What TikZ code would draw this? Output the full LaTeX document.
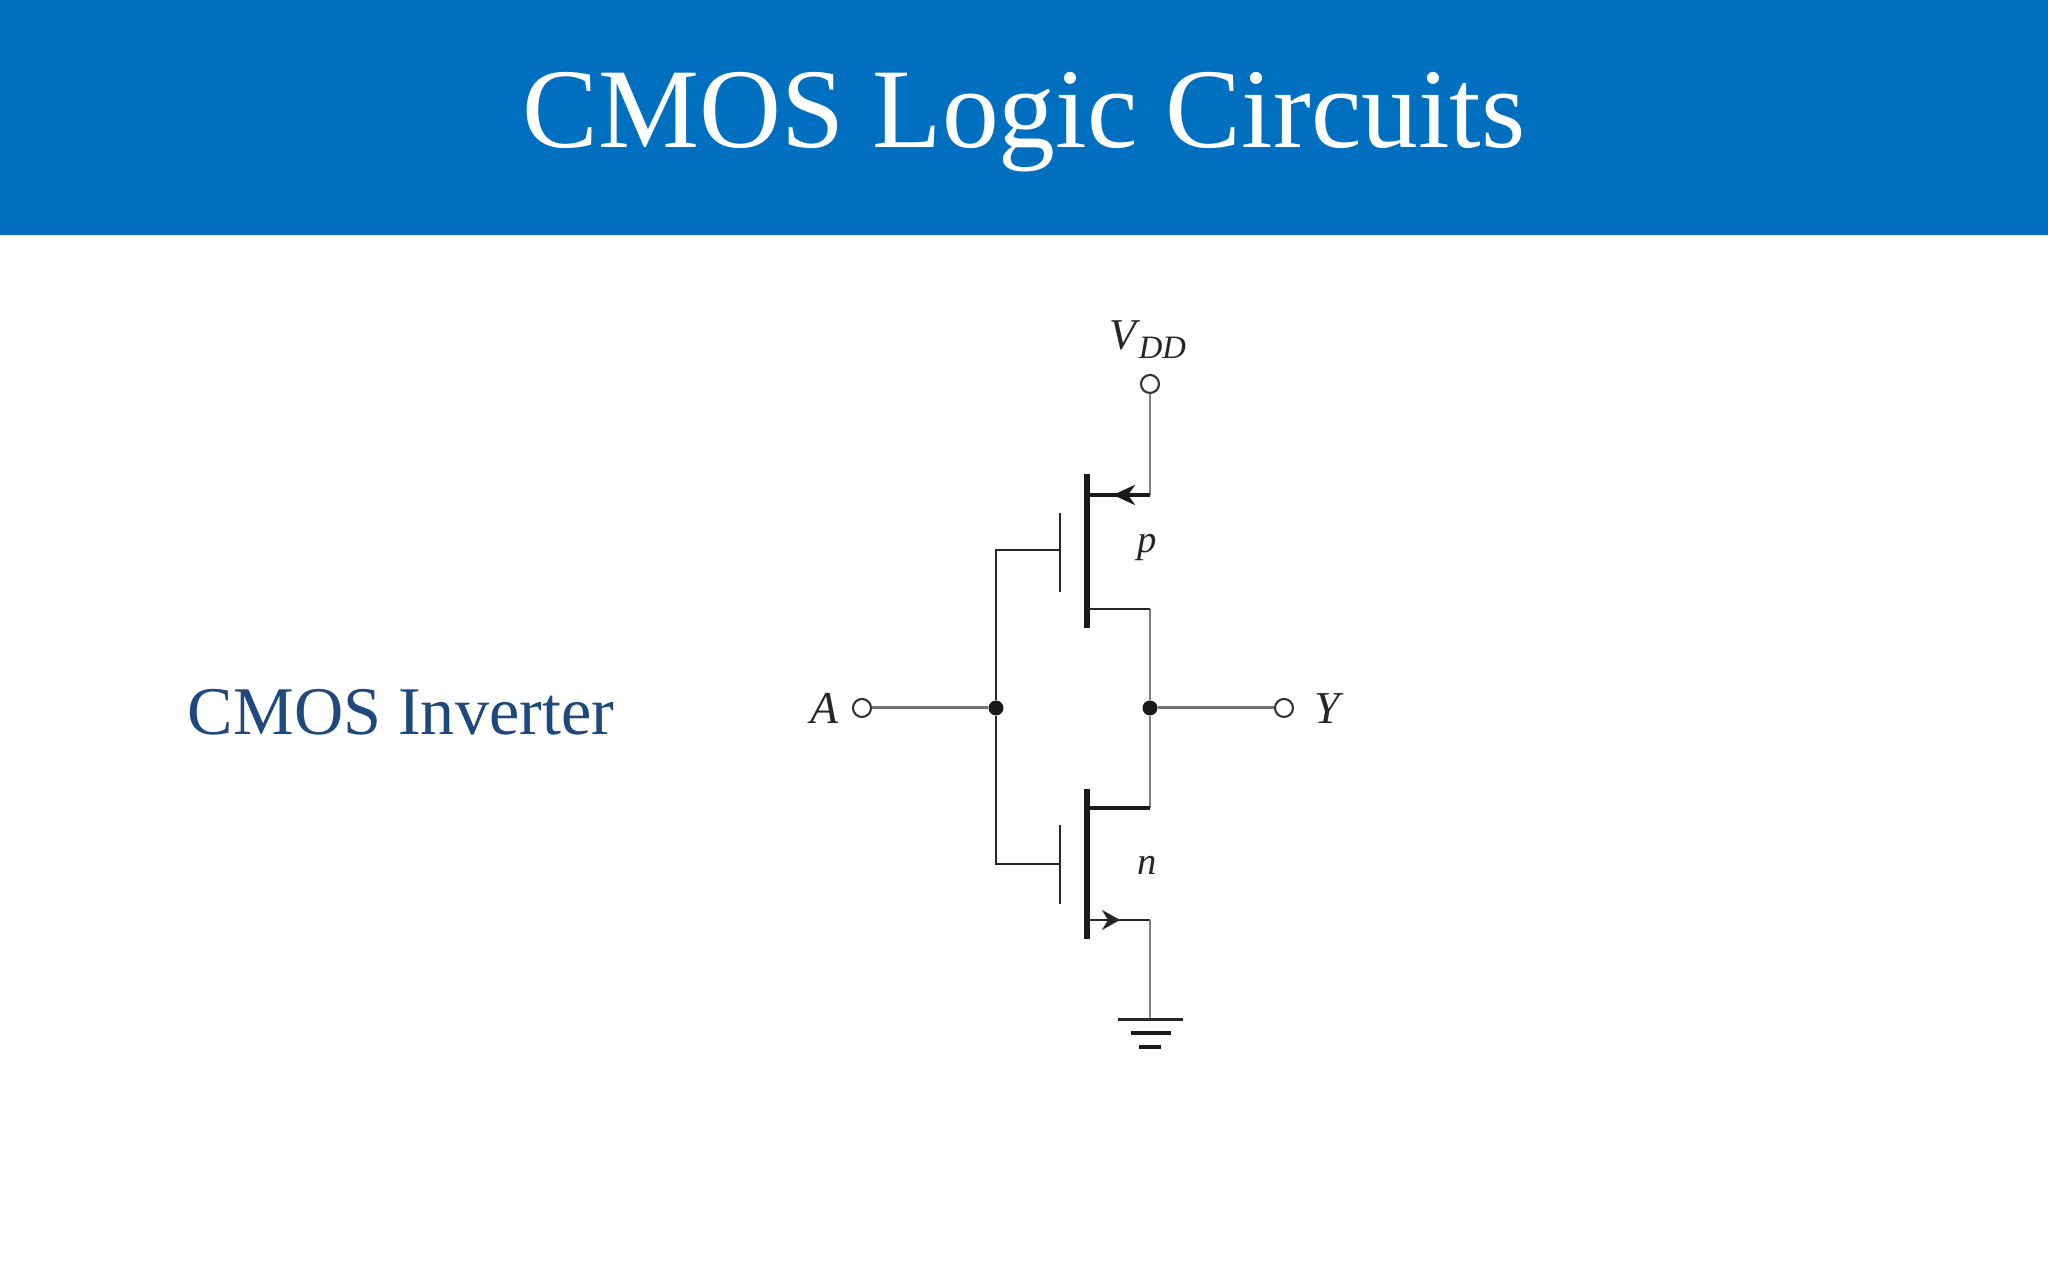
\documentclass[tikz,border=0pt]{standalone}
\usepackage{fontspec}
\setmainfont{Liberation Serif}
\usetikzlibrary{arrows.meta}
\definecolor{headblue}{HTML}{006FC0}
\definecolor{slateblue}{HTML}{1F497D}
\tikzset{
    wire/.style={line width=0.6pt, black!85},
    greywire/.style={line width=0.65pt, black!50},
    leadwire/.style={line width=0.85pt, black!55},
    thickwire/.style={line width=1.05pt, black!90},
    channel/.style={line width=1.45pt, black!90},
    terminal/.style={circle, draw=black!80, fill=white, line width=0.6pt, inner sep=0pt, minimum size=0.18cm},
    junction/.style={circle, fill=black!90, inner sep=0pt, minimum size=0.15cm},
    pinlabel/.style={text=black!85, font=\fontsize{13}{15}\selectfont\itshape},
    devlabel/.style={text=black!85, font=\fontsize{11}{13}\selectfont\itshape}
}
\begin{document}
\begin{tikzpicture}
    \useasboundingbox (0,0) rectangle (20.48,12.80);
    \fill[headblue] (0,10.45) rectangle (20.48,12.80);
    \node[white, font=\fontsize{32.3}{38}\selectfont] (title) at (10.24,11.58) {CMOS Logic Circuits};
    \node[slateblue, font=\fontsize{19.4}{22}\selectfont] (caption) at (4.01,5.68) {CMOS Inverter};

    % supply and outer terminals
    \node[terminal] (vdd) at (11.50,8.96) {};
    \node[terminal] (inA) at (8.62,5.72) {};
    \node[terminal] (outY) at (12.84,5.72) {};
    \node[junction] (gatejoin) at (9.96,5.72) {};
    \node[junction] (outjoin) at (11.50,5.72) {};
    \node[pinlabel] (labA) at (8.24,5.72) {A};
    \node[pinlabel] (labY) at (13.27,5.71) {Y};
    \node[devlabel, font=\fontsize{12.5}{14}\selectfont\itshape] (labVdd) at (11.48,9.40) {V\kern0.6pt\raisebox{-0.45ex}{\fontsize{9.3}{10}\selectfont DD}};
    \node[devlabel] (labP) at (11.47,7.32) {p};
    \node[devlabel] (labN) at (11.47,4.15) {n};

    % p transistor
    \coordinate (pS) at (11.50,7.85);
    \coordinate (pSbar) at (10.87,7.85);
    \coordinate (pSarrow) at (11.13,7.85);
    \coordinate (pD) at (11.50,6.71);
    \coordinate (pDbar) at (10.87,6.71);
    \coordinate (pG) at (10.60,7.30);
    \coordinate (pGleft) at (9.96,7.30);
    \draw[channel] (10.87,8.06) -- (10.87,6.52);
    \draw[wire] (10.60,7.67) -- (10.60,6.88);
    \draw[greywire] (vdd) -- (pS);
    \draw[thickwire] (pS) -- (pSbar);
    \draw[thickwire, -{Stealth[length=0.22cm, width=0.2cm, inset=0.07cm]}] (pS) -- (pSarrow);
    \draw[greywire] (pD) -- (outjoin);
    \draw[wire] (pD) -- (pDbar);
    \draw[wire] (gatejoin) -- (pGleft) -- (pG);

    % n transistor
    \coordinate (nD) at (11.50,4.72);
    \coordinate (nDbar) at (10.87,4.72);
    \coordinate (nS) at (11.50,3.60);
    \coordinate (nSbar) at (10.87,3.60);
    \coordinate (nSarrow) at (11.20,3.60);
    \coordinate (nG) at (10.60,4.16);
    \coordinate (nGleft) at (9.96,4.16);
    \draw[channel] (10.87,4.91) -- (10.87,3.41);
    \draw[wire] (10.60,4.55) -- (10.60,3.76);
    \draw[greywire] (outjoin) -- (nD);
    \draw[thickwire] (nD) -- (nDbar);
    \draw[wire] (gatejoin) -- (nGleft) -- (nG);
    \draw[wire] (nS) -- (nSbar);
    \draw[wire, -{Stealth[length=0.18cm, width=0.2cm, inset=0.06cm]}] (nSbar) -- (nSarrow);

    % ground
    \coordinate (gnd) at (11.50,2.60);
    \draw[greywire] (nS) -- (gnd);
    \draw[wire, line width=0.85pt] (11.18,2.60) -- (11.83,2.60);
    \draw[thickwire] (11.31,2.47) -- (11.71,2.47);
    \draw[thickwire] (11.39,2.33) -- (11.61,2.33);

    % input and output leads
    \draw[leadwire] (inA) -- (gatejoin);
    \draw[leadwire] (outjoin) -- (outY);
\end{tikzpicture}
\end{document}
